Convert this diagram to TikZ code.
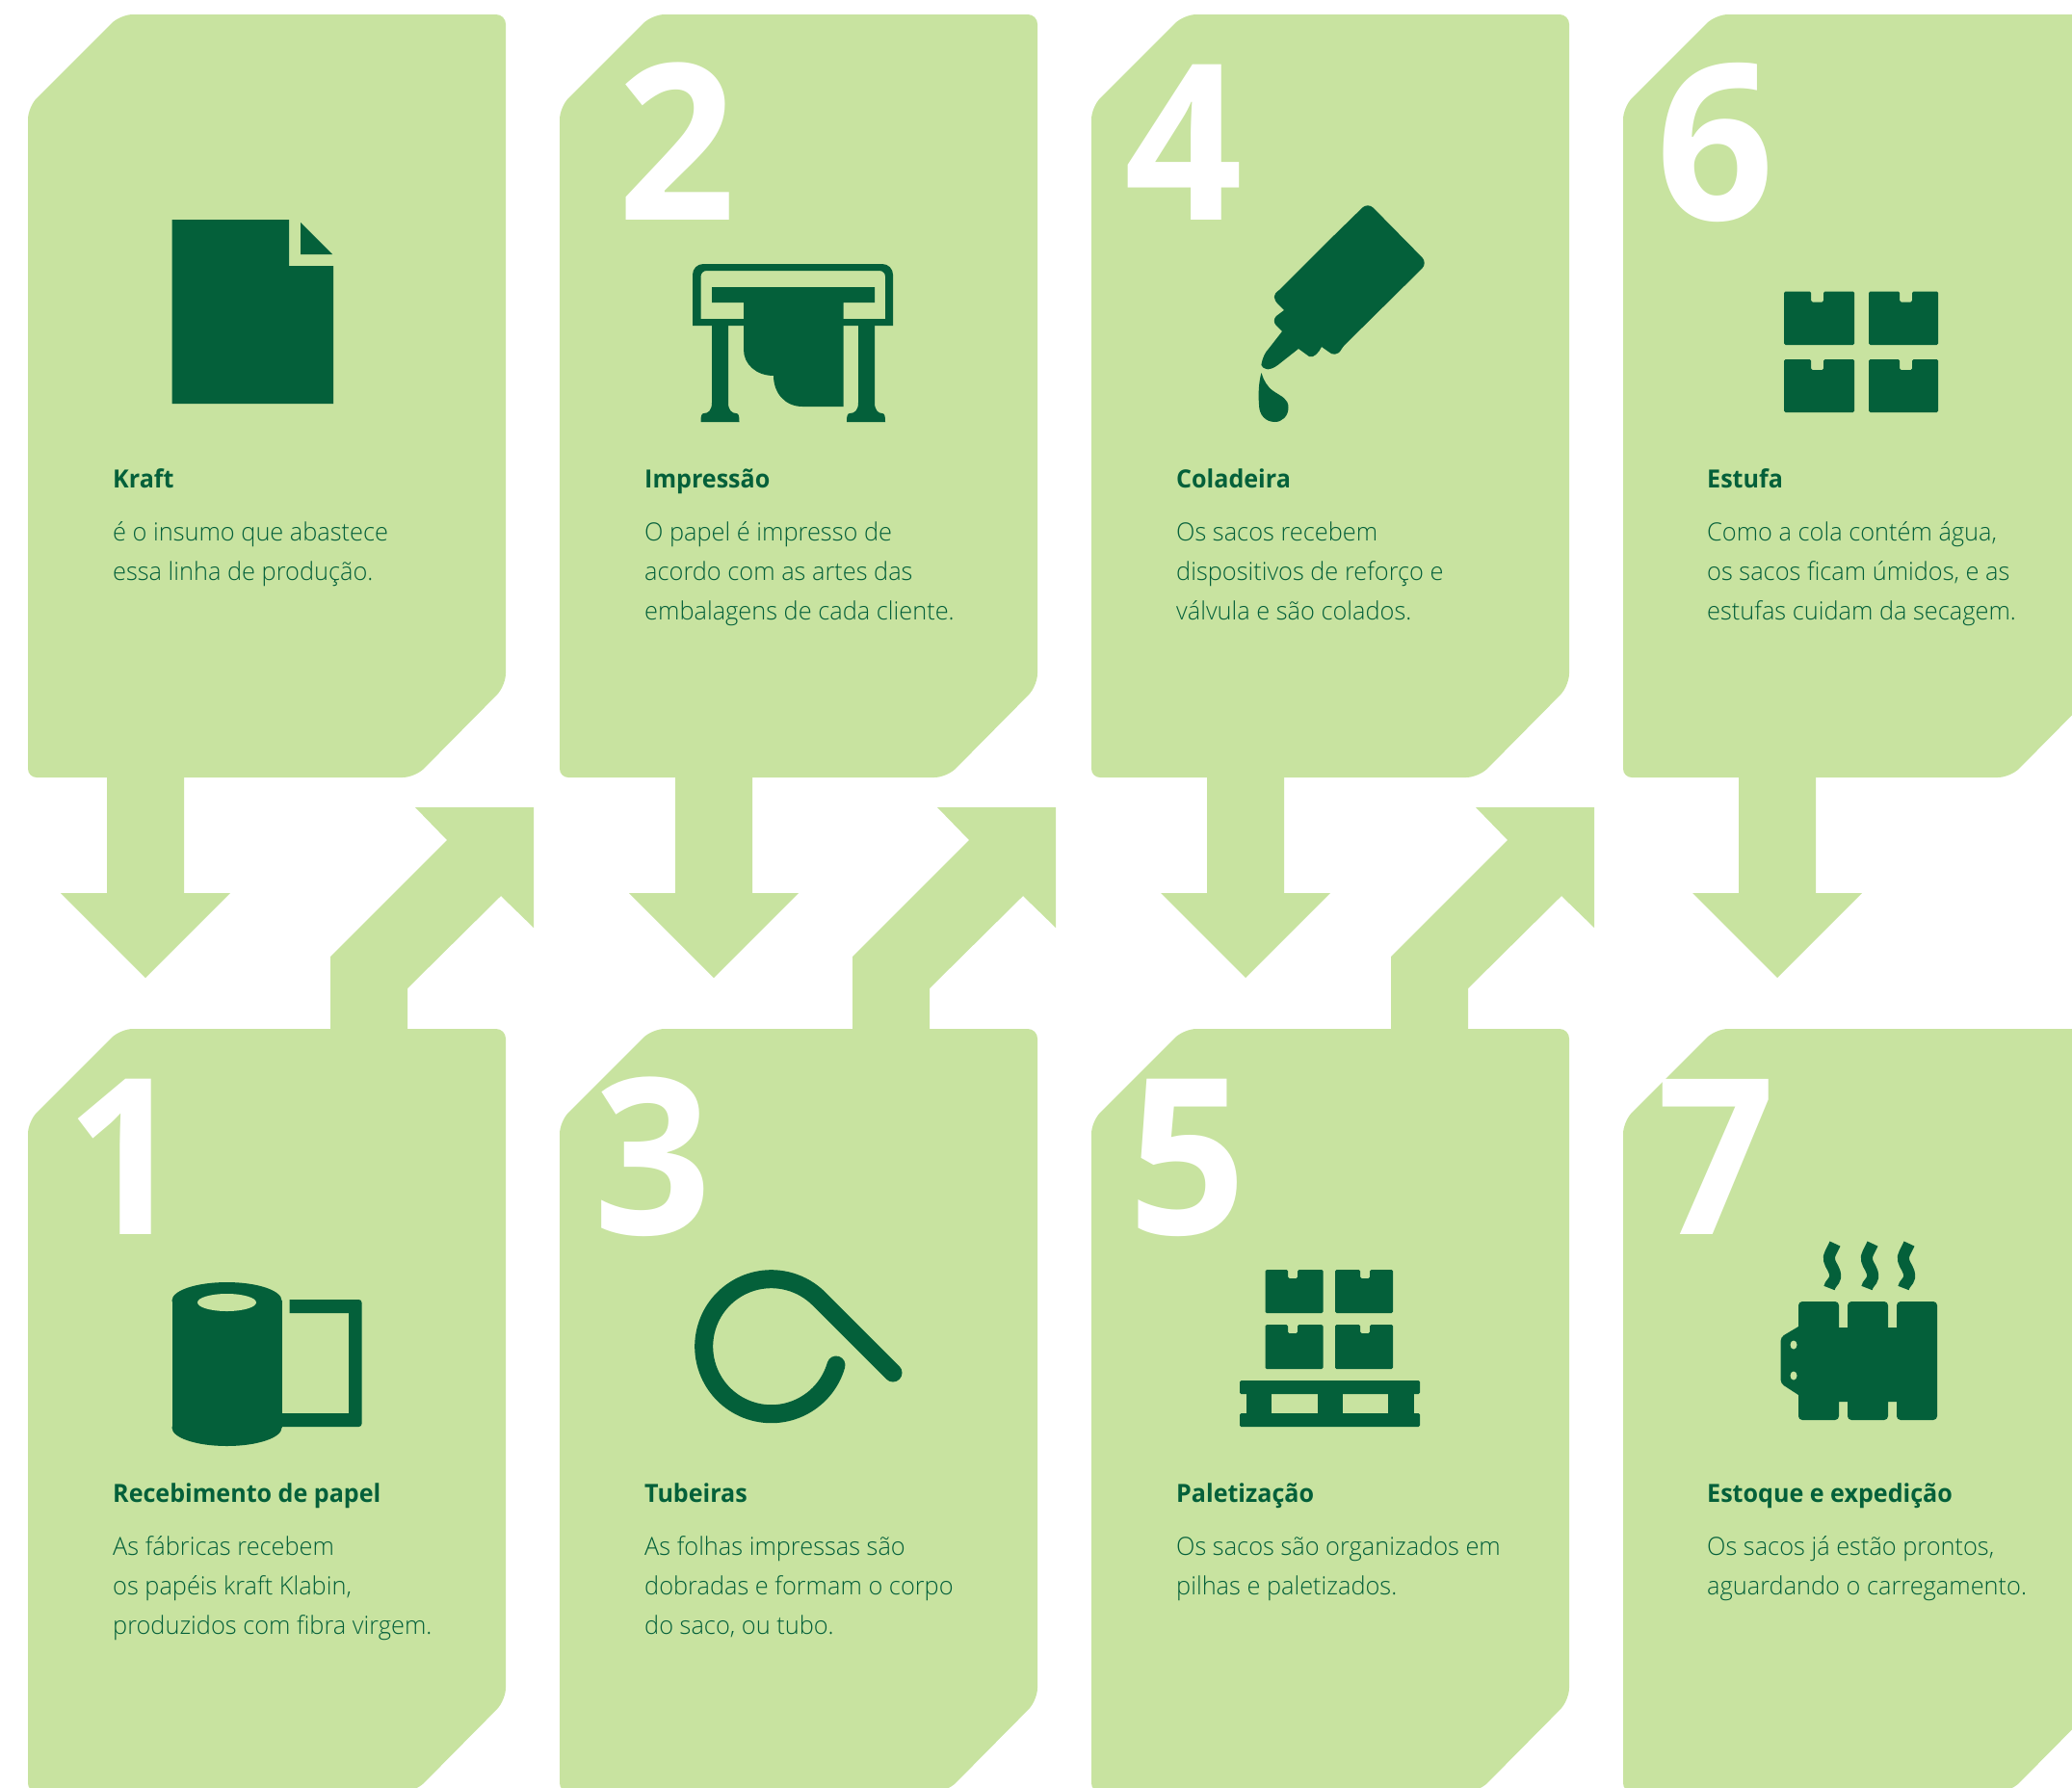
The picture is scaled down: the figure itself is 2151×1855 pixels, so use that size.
\documentclass[tikz,border=0pt]{standalone}
\usepackage{fontspec}
\setmainfont{Open Sans}
\newfontfamily\bodyfont[FakeStretch=0.975]{Open Sans Light}
\newfontfamily\titlefont[FakeStretch=0.965]{Open Sans}
\newfontfamily\numfont[FakeStretch=0.95]{Open Sans}
\definecolor{cardgreen}{HTML}{C8E3A0}
\definecolor{darkgreen}{HTML}{04603A}
\tikzset{
  x=1pt,y=-1pt,
  ink/.style={fill=darkgreen,draw=none},
  leaf/.style={fill=cardgreen,draw=none},
  bignum/.style={anchor=base,inner sep=0pt,text=white,font=\fontsize{226}{226}\selectfont\numfont\bfseries},
  titletext/.style={anchor=north west,inner sep=0pt,text=darkgreen,font=\fontsize{26}{41}\selectfont\titlefont\bfseries},
  bodytext/.style={anchor=north west,inner sep=0pt,align=left,text=darkgreen,font=\fontsize{26}{41}\selectfont\bodyfont},
}
\newcommand{\cardshape}[2]{% x, y
  \fill[leaf,shift={(#1,#2)}]
    [rounded corners=10] (248,0) -- (496,0)
    -- (496,350)
    [rounded corners=13] -- (496,697) -- (402,792)
    [rounded corners=9] -- (0,792)
    -- (0,400)
    [rounded corners=13] -- (0,96) -- (96,0)
    [rounded corners=10] -- cycle;
}
\newcommand{\arrowdown}[1]{% x of the centre
  \fill[leaf,shift={(#1,0)}] (-40,807) -- (40,807) -- (40,927) -- (88,927) -- (0,1015) -- (-88,927) -- (-40,927) -- cycle;
}
\newcommand{\arrowup}[1]{% x shift
  \fill[leaf,shift={(#1,0)}] (343,1070) -- (343,993) -- (464,872) -- (431,838) -- (554,838) -- (554,963) -- (520,930) -- (423,1026) -- (423,1070) -- cycle;
}
\newcommand{\notchd}{11}
\newcommand{\carton}[6]{% x1 y1 x2 y2 notch-x1 notch-x2
  \fill[ink,rounded corners=1.5] (#1,#2) -- (#5,#2) -- (#5,#2+\notchd) -- (#6,#2+\notchd) -- (#6,#2) -- (#3,#2) -- (#3,#4) -- (#1,#4) -- cycle;
}
\begin{document}
\begin{tikzpicture}
\useasboundingbox (0,0) rectangle (2151,1855);
\clip (0,0) rectangle (2151,1855);
% arrows
\arrowdown{151}\arrowdown{741}\arrowdown{1293}\arrowdown{1845}
\arrowup{0}\arrowup{542}\arrowup{1101}
% cards
\foreach \cx in {29,581,1133,1685}{
  \cardshape{\cx}{15}
  \cardshape{\cx}{1068}
}
% numbers
\node[bignum] (n2) at (703,228) {2};
\node[bignum] (n4) at (1229,228) {4};
\node[bignum] (n6) at (1781,228) {6};
\node[bignum] (n1) at (130,1281) {1};
\node[bignum] (n3) at (678,1281) {3};
\node[bignum] (n5) at (1233,1281) {5};
\node[bignum] (n7) at (1782,1281) {7};
% texts, top row
\node[titletext] (t1) at (117,486) {\rule{0pt}{20pt}Kraft};
\node[bodytext] (b1) at (117,541) {\rule{0pt}{20pt}é o insumo que abastece\\essa linha de produção.};
\node[titletext] (t2) at (669,486) {\rule{0pt}{20pt}Impressão};
\node[bodytext] (b2) at (669,541) {\rule{0pt}{20pt}O papel é impresso de\\acordo com as artes das\\embalagens de cada cliente.};
\node[titletext] (t3) at (1221,486) {\rule{0pt}{20pt}Coladeira};
\node[bodytext] (b3) at (1221,541) {\rule{0pt}{20pt}Os sacos recebem\\dispositivos de reforço e\\válvula e são colados.};
\node[titletext] (t4) at (1772,486) {\rule{0pt}{20pt}Estufa};
\node[bodytext] (b4) at (1772,541) {\rule{0pt}{20pt}Como a cola contém água,\\os sacos ficam úmidos, e as\\estufas cuidam da secagem.};
% texts, bottom row
\node[titletext] (t5) at (117,1539) {\rule{0pt}{20pt}Recebimento de papel};
\node[bodytext] (b5) at (117,1594) {\rule{0pt}{20pt}As fábricas recebem\\os papéis kraft Klabin,\\produzidos com fibra virgem.};
\node[titletext] (t6) at (669,1539) {\rule{0pt}{20pt}Tubeiras};
\node[bodytext] (b6) at (669,1594) {\rule{0pt}{20pt}As folhas impressas são\\dobradas e formam o corpo\\do saco, ou tubo.};
\node[titletext] (t7) at (1221,1539) {\rule{0pt}{20pt}Paletização};
\node[bodytext] (b7) at (1221,1594) {\rule{0pt}{20pt}Os sacos são organizados em\\pilhas e paletizados.};
\node[titletext] (t8) at (1772,1539) {\rule{0pt}{20pt}Estoque e expedição};
\node[bodytext] (b8) at (1772,1594) {\rule{0pt}{20pt}Os sacos já estão prontos,\\aguardando o carregamento.};
% --- icon: sheet
\fill[ink] (178.5,228) -- (300,228) -- (300,276) -- (346,276) -- (346,419) -- (178.5,419) -- cycle;
\fill[ink] (312,231) -- (345,264) -- (312,264) -- cycle;
% --- icon: printer
\fill[ink,even odd rule]
  [rounded corners=11] (719,338) -- (719,274) -- (927,274) [sharp corners] -- (927,338) -- cycle
  [rounded corners=6] (727.5,331) -- (727.5,281) -- (919,281) [sharp corners] -- (919,331) -- cycle;
\fill[ink] (739,298) -- (908,298) -- (908,314) -- (875.5,314) -- (875.5,422) -- (833,422)
  .. controls (815,422) and (803,408) .. (803,390)
  .. controls (785,390) and (772,378) .. (772,363) -- (772,314) -- (739,314) -- cycle;
\fill[ink] (739,338) -- (756,338) -- (756,418) .. controls (756,426) and (760,429) .. (764,429) .. controls (767,429) and (767.5,432) .. (767.5,438) -- (727.5,438) .. controls (727.5,432) and (728,429) .. (731,429) .. controls (735,429) and (739,426) .. (739,418) -- cycle;
\fill[ink] (891,338) -- (908,338) -- (908,418) .. controls (908,426) and (912,429) .. (915.5,429) .. controls (918.5,429) and (919,432) .. (919,438) -- (879,438) .. controls (879,432) and (879.5,429) .. (882.5,429) .. controls (887,429) and (891,426) .. (891,418) -- cycle;
% --- icon: glue bottle
\fill[ink] [rounded corners=8] (1375,254) -- (1420,210) -- (1482,273) [rounded corners=3] -- (1394,360)
  [sharp corners] .. controls (1389,369) and (1383,369) .. (1379,365) -- (1372,360)
  .. controls (1369,366) and (1364,372) .. (1359,370) -- (1348,362) -- (1329,377)
  .. controls (1322,383) and (1316,384) .. (1314.5,383)
  .. controls (1310,382) and (1309,378) .. (1309.5,378)
  .. controls (1311,370) and (1314,365) .. (1317,362) -- (1331,344) -- (1325,338)
  .. controls (1322,335) and (1322,331) .. (1325,328) -- (1333,322) -- (1328,317)
  .. controls (1321,310) and (1321,306) .. (1328,301) -- cycle;
\fill[ink] (1309.5,387) .. controls (1312,395) and (1315,401) .. (1322,406)
  .. controls (1331,412) and (1337.5,414) .. (1337.5,423)
  .. controls (1337.5,432) and (1331,438) .. (1323.5,438)
  .. controls (1314,438) and (1307,431) .. (1307,420)
  .. controls (1306,408) and (1307,395) .. (1309.5,387) -- cycle;
% --- icon: four cartons
\carton{1852}{302.5}{1925}{358}{1880}{1893}
\carton{1940}{302.5}{2012}{358}{1972}{1985}
\carton{1852}{373}{1925}{428}{1880}{1893}
\carton{1940}{373}{2012}{428}{1972}{1985}
% --- icon: paper roll
\fill[ink] (178.5,1350) -- (292.5,1350) -- (292.5,1482) -- (178.5,1482) -- cycle;
\fill[ink] (235.5,1350) ellipse[x radius=57,y radius=19];
\fill[ink] (235.5,1482) ellipse[x radius=57,y radius=19];
\fill[leaf] (235.5,1352) ellipse[x radius=30.5,y radius=9];
\fill[ink] [rounded corners=3] (300.5,1349) -- (375.5,1349) -- (375.5,1481) -- (289,1481) [sharp corners] -- (289,1467) -- (362,1467) -- (362,1363) -- (300.5,1363) -- cycle;
% --- icon: tube
\draw[darkgreen,line width=19,line cap=round] (868,1417) arc[start angle=16,end angle=315,radius=70] -- (927,1425);
% --- icon: pallet with cartons
\renewcommand{\notchd}{9}
\carton{1313.5}{1318}{1373.5}{1363}{1337}{1347}
\carton{1386}{1318}{1446}{1363}{1412}{1422}
\carton{1313.5}{1375}{1373.5}{1421}{1337}{1347}
\carton{1386}{1375}{1446}{1421}{1412}{1422}
\fill[ink,rounded corners=1.5] (1287,1433) rectangle (1474,1447);
\fill[ink,rounded corners=1.5] (1287,1467) rectangle (1474,1481);
\fill[ink] (1294,1445) rectangle (1320,1469);
\fill[ink] (1368,1445) rectangle (1394,1469);
\fill[ink] (1441,1445) rectangle (1468,1469);
% --- icon: radiator with steam
\foreach \sx in {1899,1938,1976}{
  \draw[darkgreen,line width=12,shift={(\sx,0)}] (6,1291) .. controls (2,1300) and (-1,1303) .. (0,1308)
    .. controls (1,1314) and (7,1318) .. (6,1326) .. controls (5,1331) and (1,1332) .. (0,1337);
}
\fill[ink] [rounded corners=4] (1867,1377) -- (1867,1351) -- (1909,1351) [sharp corners] -- (1909,1378) -- (1918,1378) [rounded corners=4] -- (1918,1351) -- (1960,1351) [sharp corners] -- (1960,1378) -- (1969,1378) [rounded corners=4] -- (1969,1351) -- (2011,1351) -- (2011,1474) -- (1969,1474) [sharp corners] -- (1969,1455) -- (1960,1455) [rounded corners=4] -- (1960,1474) -- (1918,1474) [sharp corners] -- (1918,1455) -- (1909,1455) [rounded corners=4] -- (1909,1474) -- (1867,1474) [sharp corners] -- (1867,1448) [rounded corners=4] -- (1848.5,1436) -- (1848.5,1388) [sharp corners] -- cycle;
\fill[leaf] (1862,1396) ellipse[x radius=3.5,y radius=4.5];
\fill[leaf] (1862,1428) ellipse[x radius=3.5,y radius=4.5];
\end{tikzpicture}
\end{document}
